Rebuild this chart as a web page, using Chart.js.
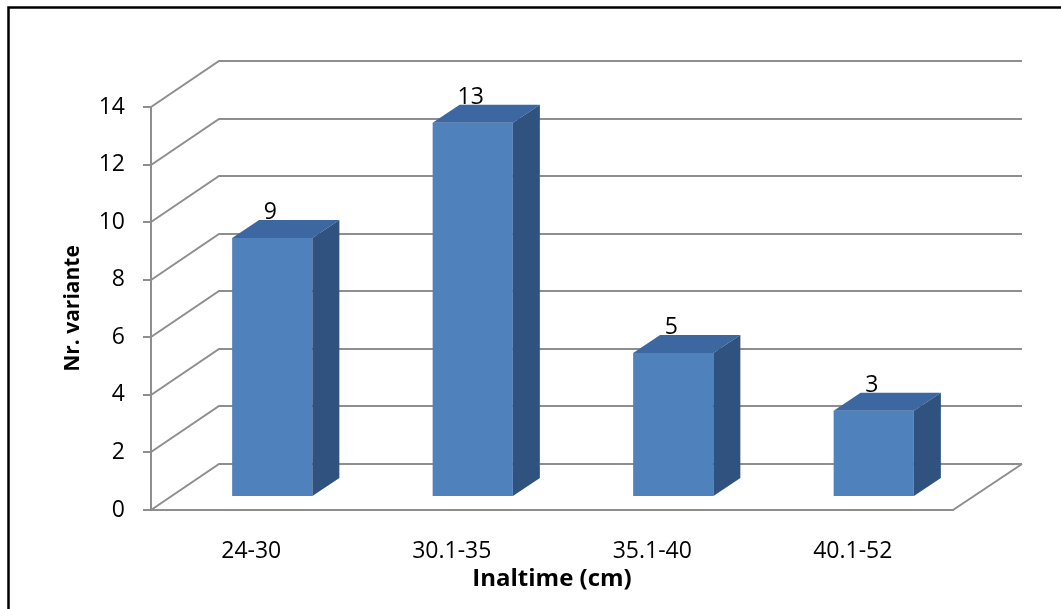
<!DOCTYPE html>
<html>
<head>
<meta charset="utf-8">
<script src="https://cdn.jsdelivr.net/npm/chart.js@4.4.1/dist/chart.umd.min.js"></script>
<style>
  html, body { margin: 0; padding: 0; background: #ffffff; }
  #wrap { width: 1061px; height: 609px; position: relative; }
  canvas { display: block; }
</style>
</head>
<body>
<div id="wrap"><canvas id="c" width="1061" height="609"></canvas></div>
<script>
// ---- data ----
const categories = ['24-30', '30.1-35', '35.1-40', '40.1-52'];
const values = [9, 13, 5, 3];
const yTickValues = [0, 2, 4, 6, 8, 10, 12, 14];
const xTitle = 'Inaltime (cm)';
const yTitle = 'Nr. variante';

// ---- style ----
const FONT = '"Open Sans", Lato, "DejaVu Sans", sans-serif';
const GRID = '#8e8e8e';
const FRONT = '#4f81bd';
const TOP = '#3c67a1';
const SIDE = '#30527e';
const BACK = { dx: 68, dy: -46 };     // back wall offset
const BAR_OFF = { dx: 21, dy: -13 };  // bars front plane offset
const BAR_DEPTH = { dx: 27, dy: -18 };// bar depth

const threeD = {
  id: 'threeD',
  beforeDraw(chart) {
    const ctx = chart.ctx;
    ctx.save();
    ctx.fillStyle = '#ffffff';
    ctx.fillRect(0, 0, chart.width, chart.height);
    ctx.strokeStyle = '#000000';
    ctx.lineWidth = 2.5;
    ctx.strokeRect(8.5, 7.5, 1200, 800);
    ctx.restore();
  },
  beforeDatasetsDraw(chart) {
    const ctx = chart.ctx;
    const ys = chart.scales.y;
    const ca = chart.chartArea;
    ctx.save();
    ctx.strokeStyle = GRID;
    ctx.lineWidth = 2;
    yTickValues.forEach(v => {
      const p = Math.round(ys.getPixelForValue(v));
      ctx.beginPath();
      ctx.moveTo(ca.left, p);
      ctx.lineTo(ca.left + BACK.dx, p + BACK.dy);
      ctx.lineTo(ca.right + BACK.dx + 1, p + BACK.dy);
      ctx.stroke();
    });
    const p0 = Math.round(ys.getPixelForValue(0));
    ctx.beginPath();
    ctx.moveTo(ca.right, p0);
    ctx.lineTo(ca.right + BACK.dx + 1, p0 + BACK.dy);
    ctx.stroke();
    ctx.restore();
    ctx.save();
    ctx.translate(BAR_OFF.dx, BAR_OFF.dy);
  },
  afterDatasetsDraw(chart) {
    const ctx = chart.ctx;
    const meta = chart.getDatasetMeta(0);
    meta.data.forEach(bar => {
      const { x, y, base, width } = bar.getProps(['x', 'y', 'base', 'width'], true);
      const x1 = x - width / 2, x2 = x + width / 2;
      // top face
      ctx.fillStyle = TOP;
      ctx.beginPath();
      ctx.moveTo(x1, y);
      ctx.lineTo(x1 + BAR_DEPTH.dx, y + BAR_DEPTH.dy);
      ctx.lineTo(x2 + BAR_DEPTH.dx, y + BAR_DEPTH.dy);
      ctx.lineTo(x2, y);
      ctx.closePath();
      ctx.fill();
      // side face
      ctx.fillStyle = SIDE;
      ctx.beginPath();
      ctx.moveTo(x2, y);
      ctx.lineTo(x2 + BAR_DEPTH.dx, y + BAR_DEPTH.dy);
      ctx.lineTo(x2 + BAR_DEPTH.dx, base + BAR_DEPTH.dy);
      ctx.lineTo(x2, base);
      ctx.closePath();
      ctx.fill();
    });
    // value labels
    ctx.fillStyle = '#000000';
    ctx.font = '23px ' + FONT;
    ctx.textAlign = 'center';
    ctx.textBaseline = 'alphabetic';
    meta.data.forEach((bar, i) => {
      const { x, y } = bar.getProps(['x', 'y'], true);
      ctx.fillText(String(values[i]), x - 2, y + BAR_DEPTH.dy - 1);
    });
    ctx.restore();
  }
};

new Chart(document.getElementById('c'), {
  type: 'bar',
  data: {
    labels: categories,
    datasets: [{
      data: values,
      backgroundColor: FRONT,
      borderWidth: 0,
      barPercentage: 0.4,
      categoryPercentage: 1.0
    }]
  },
  options: {
    responsive: false,
    animation: false,
    devicePixelRatio: 1,
    layout: { padding: { left: 8, right: 108, top: 107, bottom: 0 } },
    plugins: {
      legend: { display: false },
      tooltip: { enabled: false }
    },
    scales: {
      x: {
        grid: { display: false },
        border: { display: true, color: GRID, width: 2 },
        ticks: { color: '#000', font: { family: FONT, size: 23 }, padding: 20, maxRotation: 0 },
        title: { display: true, text: xTitle, color: '#000', font: { family: FONT, size: 24, weight: 'bold' }, padding: { top: 0, bottom: 15 } },
        afterFit(s) { s.height = 99; }
      },
      y: {
        min: 0, max: 14,
        afterBuildTicks(s) { s.ticks = yTickValues.map(v => ({ value: v })); },
        grid: { drawOnChartArea: false, drawTicks: true, tickLength: 8, color: GRID, lineWidth: 2 },
        border: { display: true, color: GRID, width: 2 },
        ticks: { color: '#000', font: { family: FONT, size: 23 }, padding: 18 },
        title: { display: true, text: yTitle, color: '#000', font: { family: FONT, size: 21, weight: 'bold' }, padding: { top: 52, bottom: 0 } },
        afterFit(s) { s.width = 143; }
      }
    }
  },
  plugins: [threeD]
});
</script>
</body>
</html>
